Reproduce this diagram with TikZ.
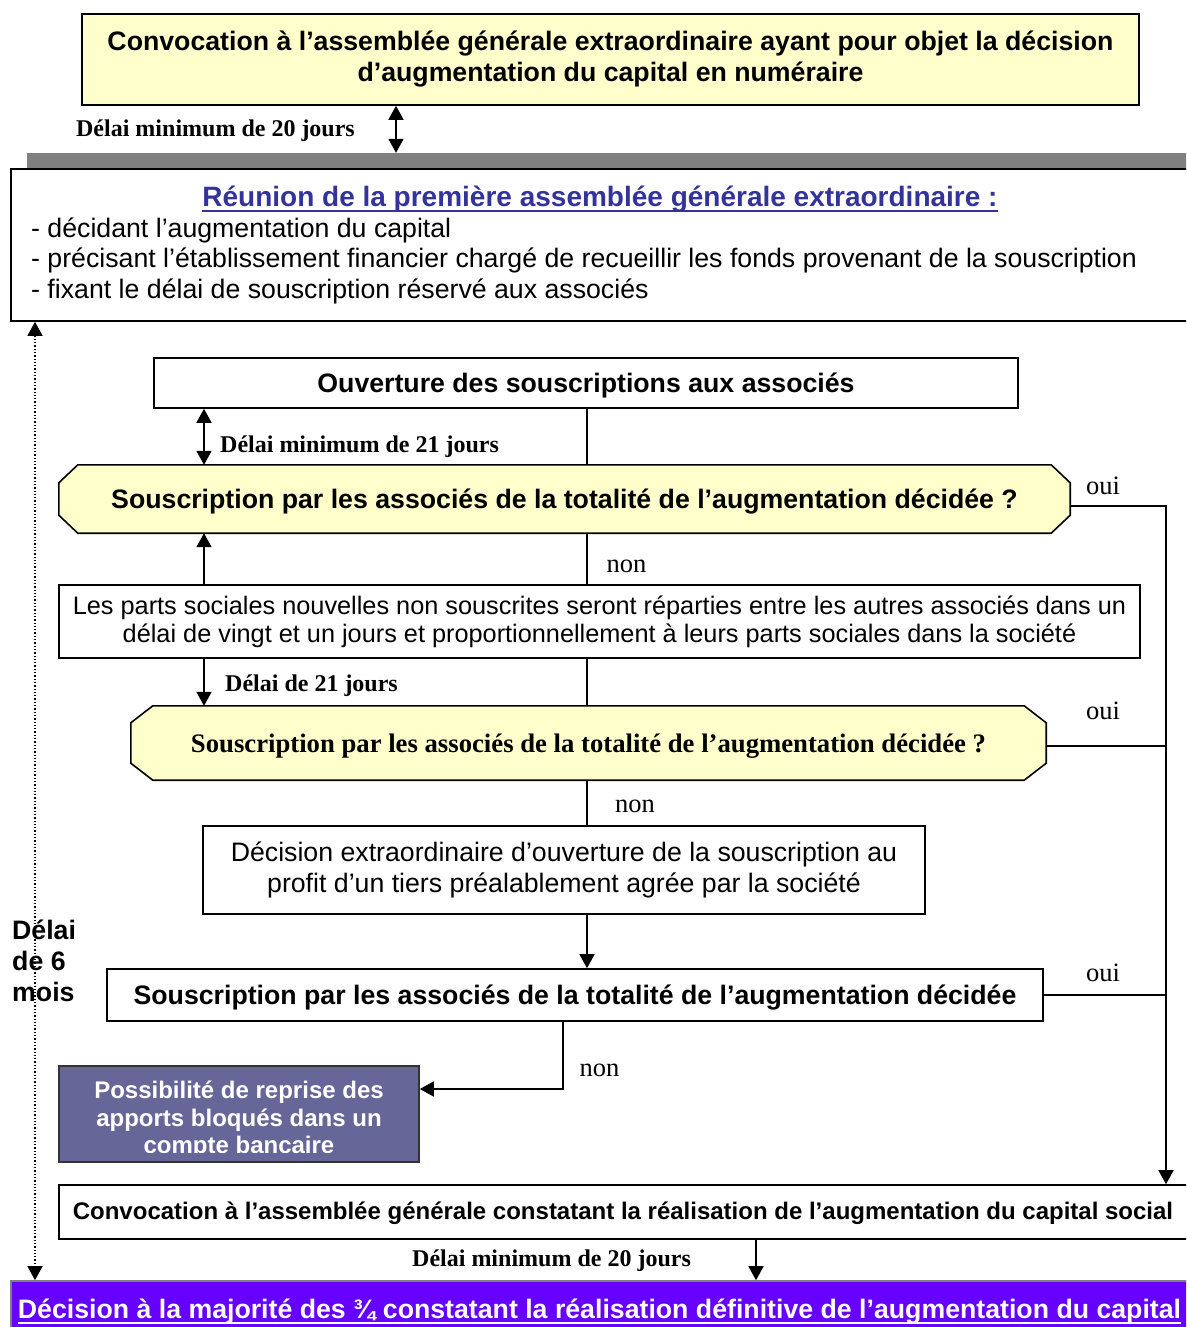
\documentclass[tikz,border=0pt]{standalone}
\usepackage{fontspec}
\setmainfont{Liberation Serif}
\setsansfont{Liberation Sans}
\usetikzlibrary{arrows.meta,backgrounds}
\definecolor{paleyellow}{HTML}{FFFFCC}
\definecolor{titleblue}{HTML}{333399}
\definecolor{slate}{HTML}{666699}
\definecolor{violetbar}{HTML}{6600FF}
\definecolor{shadowgray}{HTML}{808080}
\newsavebox\myulbox
\newcommand\myul[1]{\sbox\myulbox{#1}\rlap{\usebox\myulbox}\rule[-5.5pt]{\wd\myulbox}{2pt}}
\tikzset{
  >={Triangle[length=14pt,width=15pt]},
  conn/.style={line width=1.6pt},
  box/.style={draw=black, line width=1.6pt, fill=white, inner sep=0pt},
  yellowbox/.style={box, fill=paleyellow},
  hexfill/.style={draw=black, line width=1.6pt, fill=paleyellow},
  sansbold/.style={font=\sffamily\bfseries\fontsize{26.7}{31}\selectfont},
  sansreg/.style={font=\sffamily\fontsize{26.7}{31}\selectfont},
  seriflabel/.style={font=\rmfamily\bfseries\fontsize{24}{28}\selectfont, inner sep=0pt},
  answer/.style={font=\rmfamily\fontsize{26.5}{30}\selectfont, inner sep=0pt},
  txt/.style={inner sep=0pt, align=center},
}
\begin{document}
\begin{tikzpicture}[x=1pt,y=-1pt]
\useasboundingbox (0,0) rectangle (1186,1327);
\clip (0,0) rectangle (1186,1327);
\begin{scope}[on background layer]
\fill[white] (0,0) rectangle (1186,1327);
\end{scope}

\coordinate (xA) at (396,0);
\coordinate (xB) at (204,0);
\coordinate (xC) at (587,0);
\coordinate (xD) at (1166,0);
\coordinate (xE) at (563,0);
\coordinate (xF) at (756,0);
\coordinate (xG) at (35,0);
\coordinate (yP) at (0,1089);

% top box
\node[yellowbox, minimum width=1057pt, minimum height=91pt, sansbold, align=center] (top) at (610.5,59.5)
 {Convocation à l’assemblée générale extraordinaire ayant pour objet la décision\\d’augmentation du capital en numéraire};
\node[seriflabel] (lab1) at (215.5,131) {Délai minimum de 20 jours};

% shadow bar and meeting box
\node[fill=shadowgray, inner sep=0pt, minimum width=1173pt, minimum height=16pt] (bar) at (613.5,161) {};
\node[box, minimum width=1189pt, minimum height=152pt] (meet) at (605.5,245) {};
\node[txt, text=titleblue, font=\sffamily\bfseries\fontsize{28}{32}\selectfont] (meettitle) at (600,199) {\myul{Réunion de la première assemblée générale extraordinaire :}};
\node[inner sep=0pt, sansreg, anchor=base west] (l1) at (31,237) {- décidant l’augmentation du capital};
\node[inner sep=0pt, sansreg, anchor=base west] (l2) at (31,267) {- précisant l’établissement financier chargé de recueillir les fonds provenant de la souscription};
\node[inner sep=0pt, sansreg, anchor=base west] (l3) at (31,298) {- fixant le délai de souscription réservé aux associés};

% ouverture
\node[box, minimum width=864pt, minimum height=50pt, sansbold, text depth=0pt] (ouv) at (586,383) {Ouverture des souscriptions aux associés};
\node[seriflabel] (lab2) at (359.5,447) {Délai minimum de 21 jours};

% hexagon 1
\node[inner sep=0pt, minimum width=1011pt, minimum height=68pt, sansbold, text depth=0pt] (h1) at (564.5,499)
 {Souscription par les associés de la totalité de l’augmentation décidée ?};
\begin{scope}[on background layer]
\draw[hexfill] ([xshift=19pt]h1.north west) -- ([xshift=-19pt]h1.north east) -- ([yshift=-18pt]h1.north east)
 -- ([yshift=18pt]h1.south east) -- ([xshift=-19pt]h1.south east) -- ([xshift=19pt]h1.south west)
 -- ([yshift=18pt]h1.south west) -- ([yshift=-18pt]h1.north west) -- cycle;
\end{scope}
\node[answer] (oui1) at (1103,486) {oui};
\node[answer] (non1) at (626.5,566) {non};

% parts
\node[box, minimum width=1081pt, minimum height=73pt, font=\sffamily\fontsize{25.3}{28}\selectfont, align=center] (parts) at (599.5,621.5)
 {Les parts sociales nouvelles non souscrites seront réparties entre les autres associés dans un\\délai de vingt et un jours et proportionnellement à leurs parts sociales dans la société};
\node[seriflabel] (lab3) at (311.5,686) {Délai de 21 jours};

% hexagon 2
\node[inner sep=0pt, minimum width=915pt, minimum height=74pt, font=\rmfamily\bfseries\fontsize{26.7}{30}\selectfont, text depth=0pt] (h2) at (588.5,743)
 {Souscription par les associés de la totalité de l’augmentation décidée ?};
\begin{scope}[on background layer]
\draw[hexfill] ([xshift=22pt]h2.north west) -- ([xshift=-22pt]h2.north east) -- ([yshift=-17pt]h2.north east)
 -- ([yshift=17pt]h2.south east) -- ([xshift=-22pt]h2.south east) -- ([xshift=22pt]h2.south west)
 -- ([yshift=17pt]h2.south west) -- ([yshift=-17pt]h2.north west) -- cycle;
\end{scope}
\node[answer] (oui2) at (1103,711) {oui};
\node[answer] (non2) at (635,806) {non};

% decision
\node[box, minimum width=722pt, minimum height=88pt, sansreg, align=center] (dec) at (564,870)
 {Décision extraordinaire d’ouverture de la souscription au\\profit d’un tiers préalablement agrée par la société};

% souscription 3
\node[box, minimum width=936pt, minimum height=52pt, sansbold, text depth=0pt] (sous3) at (575,995)
 {Souscription par les associés de la totalité de l’augmentation décidée};
\node[answer] (oui3) at (1103,973) {oui};
\node[answer] (non3) at (599.5,1070) {non};

% purple box
\node[draw=black!80, line width=1.6pt, fill=slate, minimum width=360pt, minimum height=96pt, inner sep=0pt] (purp) at (239,1114) {};
\begin{scope}
\clip ([xshift=1pt,yshift=-1pt]purp.north west) rectangle ([xshift=-1pt,yshift=10pt]purp.south east);
\node[txt, text=white, font=\sffamily\bfseries\fontsize{24}{27.5}\selectfont] (purptext) at (239,1120)
 {Possibilité de reprise des\\apports bloqués dans un\\compte bancaire};
\end{scope}

% convocation final
\node[box, minimum width=1141pt, minimum height=54pt] (conv) at (629.5,1212) {};
\node[txt, font=\sffamily\bfseries\fontsize{24}{28}\selectfont] (convtext) at (623,1213)
 {Convocation à l’assemblée générale constatant la réalisation de l’augmentation du capital social};
\node[seriflabel] (lab4) at (551.5,1261) {Délai minimum de 20 jours};

% final bar
\node[draw=gray, line width=1.6pt, fill=violetbar, minimum width=1189pt, minimum height=60pt, inner sep=0pt] (final) at (605.5,1311) {};
\node[txt, text=white, sansbold] (finaltext) at (599.5,1312)
 {\myul{Décision à la majorité des ¾ constatant la réalisation définitive de l’augmentation du capital}};

% six months
\draw[line width=1.3pt, dotted, <->] (meet.south -| xG) -- (final.north -| xG);
\node[inner sep=0pt, sansbold, align=left, anchor=west] (six) at (12,961) {Délai\\de 6\\mois};

% connectors
\draw[conn, <->] (top.south -| xA) -- (bar.north -| xA);
\draw[conn] (ouv.south -| xC) -- (h1.north -| xC);
\draw[conn, <->] (ouv.south -| xB) -- (h1.north -| xB);
\draw[conn] (h1.south -| xC) -- (parts.north -| xC);
\draw[conn, ->] (parts.north -| xB) -- (h1.south -| xB);
\draw[conn, ->] (parts.south -| xB) -- (h2.north -| xB);
\draw[conn] (parts.south -| xC) -- (h2.north -| xC);
\draw[conn] (h2.south -| xC) -- (dec.north -| xC);
\draw[conn, ->] (dec.south -| xC) -- (sous3.north -| xC);
\draw[conn, ->] (sous3.south -| xE) |- (purp.east |- yP);
\draw[conn, ->] ([yshift=-7pt]h1.east) -| (conv.north -| xD);
\draw[conn] ([yshift=-3pt]h2.east) -- ([yshift=-3pt]h2.east -| xD);
\draw[conn] (sous3.east) -- (sous3.east -| xD);
\draw[conn, ->] (conv.south -| xF) -- (final.north -| xF);
\end{tikzpicture}
\end{document}
